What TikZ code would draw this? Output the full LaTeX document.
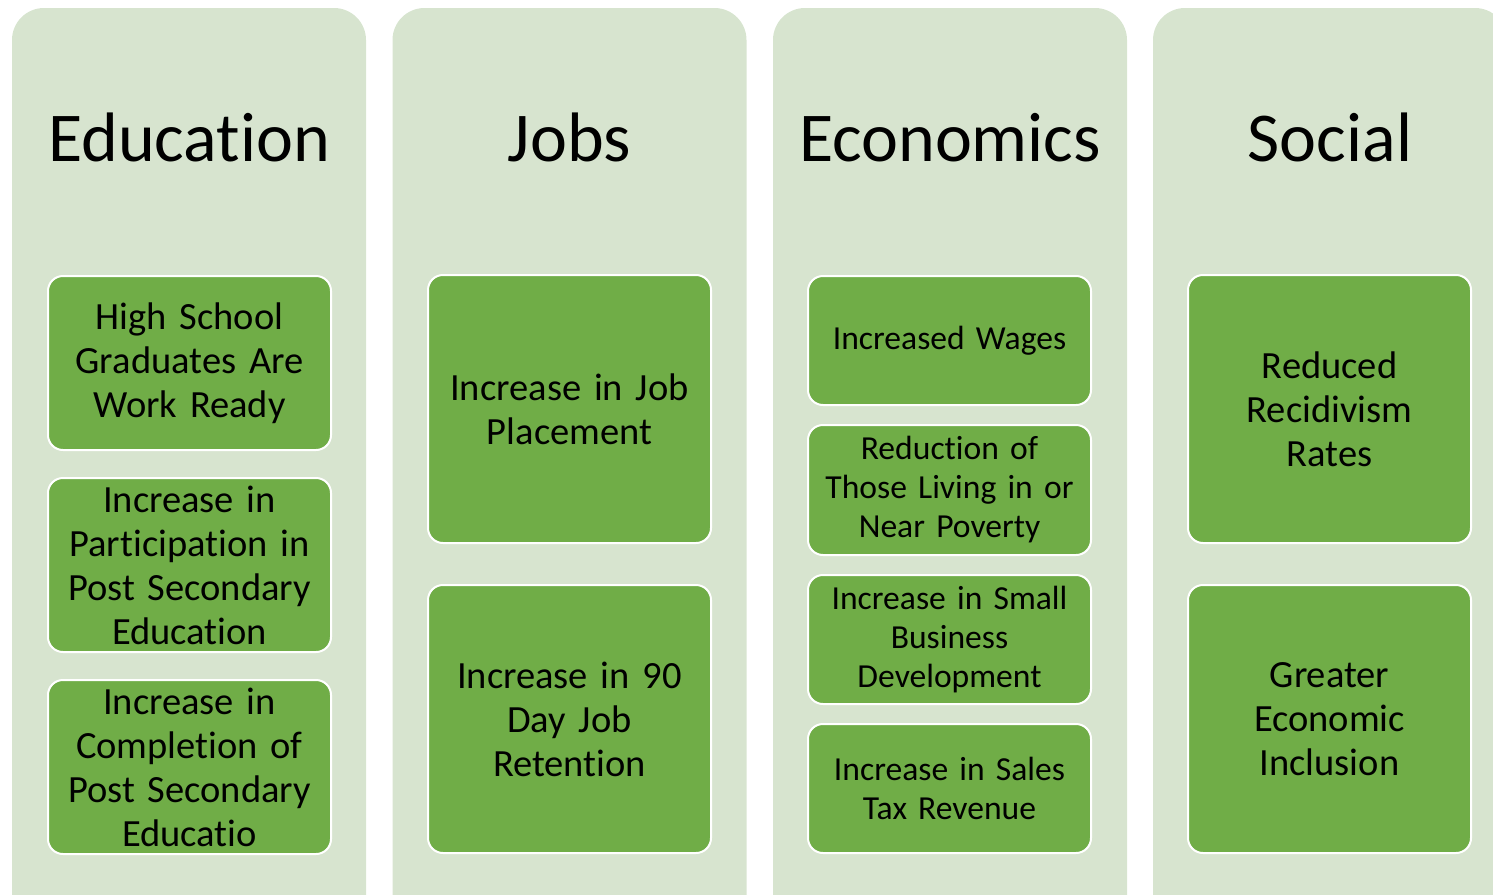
\documentclass[tikz,border=0pt]{standalone}
\usepackage{fontspec}
\setmainfont{Carlito}[Ligatures=NoCommon]
\definecolor{colbg}{HTML}{D7E4CF}
\definecolor{itemgreen}{HTML}{70AD47}
\begin{document}
\begin{tikzpicture}[x=1pt,y=-1pt,
 column/.style={fill=colbg, draw=none, rounded corners=32pt, minimum width=354pt, minimum height=940pt, inner sep=0pt, outer sep=0pt, anchor=north},
 heading/.style={font=\fontsize{70}{74}\selectfont, anchor=base, inner sep=0pt},
 item/.style={fill=itemgreen, draw=white, line width=2pt, rounded corners=15pt, minimum width=283pt, inner sep=0pt, outer sep=0pt, align=center, text width=282pt, font=\fontsize{38.5}{44}\selectfont},
 eitem/.style={item, font=\fontsize{33.6}{39}\selectfont}]
\useasboundingbox (0,0) rectangle (1493,894);
\clip (0,0) rectangle (1493,894);
% columns
\node[column] (colEdu) at (189,8) {};
\node[column] (colJobs) at (569.5,8) {};
\node[column] (colEcon) at (950,8) {};
\node[column] (colSoc) at (1330,8) {};
% headings
\node[heading] (hEdu) at (189,161) {Education};
\node[heading] (hJobs) at (569.5,161) {Jobs};
\node[heading] (hEcon) at (950,161) {Economics};
\node[heading] (hSoc) at (1330,161) {Social};
% Education items
\node[item, minimum height=174pt] (e1) at (189.5,363) {High School\\Graduates Are\\Work Ready};
\node[item, minimum height=174pt] (e2) at (189.5,565) {Increase in\\Participation in\\Post Secondary\\Education};
\node[item, minimum height=174pt] (e3) at (189.5,767) {Increase in\\Completion of\\Post Secondary\\Educatio};
% Jobs items
\node[item, minimum height=268pt] (j1) at (569.5,409) {Increase in Job\\Placement};
\node[item, minimum height=268pt] (j2) at (569.5,719) {Increase in 90\\Day Job\\Retention};
% Economics items
\node[eitem, minimum height=129pt] (c1) at (949.5,340.5) {Increased Wages};
\node[eitem, minimum height=130pt] (c2) at (949.5,490) {Reduction of\\Those Living in or\\Near Poverty};
\node[eitem, minimum height=129pt] (c3) at (949.5,639.5) {Increase in Small\\Business\\Development};
\node[eitem, minimum height=129pt] (c4) at (949.5,788.5) {Increase in Sales\\Tax Revenue};
% Social items
\node[item, minimum height=268pt] (s1) at (1329.5,409) {Reduced\\Recidivism\\Rates};
\node[item, minimum height=268pt] (s2) at (1329.5,719) {Greater\\Economic\\Inclusion};
\end{tikzpicture}
\end{document}
